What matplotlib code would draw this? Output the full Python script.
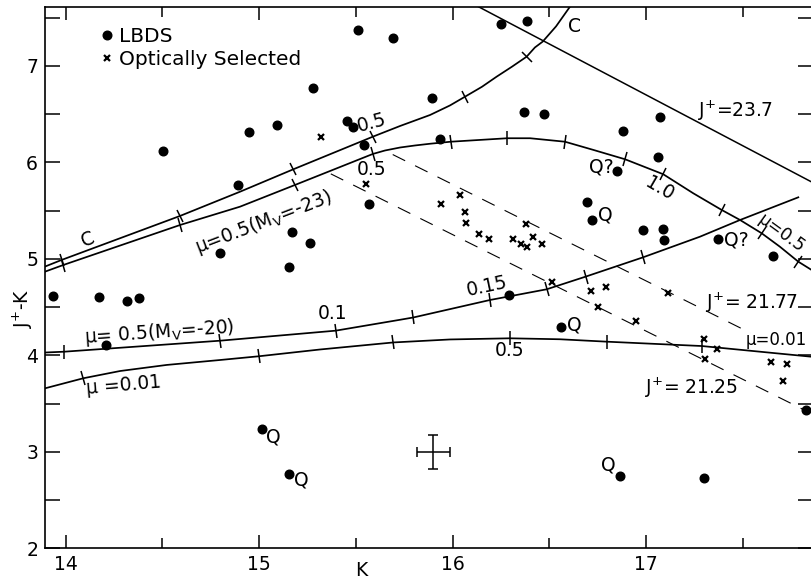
import numpy as np
import matplotlib
matplotlib.use('Agg')
import matplotlib.pyplot as plt
from matplotlib.markers import MarkerStyle
from matplotlib.transforms import Affine2D
from matplotlib.lines import Line2D

plt.rcParams['font.family'] = ['DejaVu Sans']
plt.rcParams['mathtext.fontset'] = 'dejavusans'
plt.rcParams['lines.scale_dashes'] = False

# ---------------- data ----------------
lbds_k = [15.509, 15.690, 15.280, 14.504, 14.949, 15.090, 15.452, 15.483, 15.542, 14.889,
          15.569, 15.171, 15.263, 14.797, 15.156, 13.936, 14.172, 14.315, 14.377, 14.208,
          15.016, 15.152, 16.250, 16.382, 15.891, 16.370, 16.473, 17.073, 16.879, 15.934,
          17.059, 16.848, 16.694, 16.720, 16.985, 17.088, 17.094, 17.370, 17.654, 16.291,
          16.558, 17.826, 16.865, 17.299]
lbds_jk = [7.371, 7.291, 6.767, 6.120, 6.314, 6.387, 6.431, 6.363, 6.176, 5.762,
           5.568, 5.275, 5.167, 5.057, 4.918, 4.615, 4.607, 4.560, 4.591, 4.107,
           3.236, 2.767, 7.430, 7.467, 6.666, 6.518, 6.501, 6.466, 6.321, 6.238,
           6.058, 5.907, 5.589, 5.402, 5.298, 5.306, 5.195, 5.202, 5.026, 4.628,
           4.296, 3.433, 2.749, 2.729]

opt_k = [15.319, 15.550, 16.038, 15.940, 16.064, 16.069, 16.134, 16.189, 16.380, 16.313,
         16.351, 16.382, 16.417, 16.463, 16.512, 16.713, 16.791, 17.111, 16.751, 16.947,
         17.297, 17.366, 17.305, 17.645, 17.729, 17.709]
opt_jk = [6.262, 5.772, 5.664, 5.565, 5.482, 5.374, 5.260, 5.202, 5.361, 5.208,
          5.153, 5.125, 5.223, 5.150, 4.763, 4.663, 4.705, 4.642, 4.504, 4.359,
          4.166, 4.065, 3.962, 3.927, 3.907, 3.737]

# model tracks
c_k = [13.85, 13.979, 14.591, 14.901, 15.176, 15.587, 15.728, 15.883, 15.986, 16.064, 16.151,
       16.227, 16.306, 16.382, 16.425, 16.465, 16.534, 16.606, 16.64]
c_jk = [4.885, 4.988, 5.444, 5.695, 5.927, 6.265, 6.376, 6.490, 6.589, 6.680, 6.782,
        6.887, 6.990, 7.094, 7.190, 7.250, 7.408, 7.612, 7.70]
c_ticks = [13.979, 14.591, 15.176, 15.587, 16.064, 16.382]

m23_k = [13.85, 13.988, 14.591, 14.901, 15.185, 15.587, 15.650, 15.728, 15.805, 15.883, 15.990,
         16.282, 16.400, 16.580, 16.727, 16.891, 17.088, 17.243, 17.390, 17.485, 17.597, 17.691,
         17.786, 17.87]
m23_jk = [4.835, 4.936, 5.350, 5.540, 5.765, 6.086, 6.122, 6.153, 6.174, 6.192, 6.213,
          6.249, 6.249, 6.213, 6.128, 6.031, 5.876, 5.679, 5.506, 5.402, 5.264, 5.125,
          4.970, 4.865]
m23_ticks = [13.988, 14.591, 15.185, 15.587, 15.990, 16.282, 16.580, 16.891, 17.088, 17.390,
             17.597, 17.786]

m20_k = [13.85, 13.991, 14.797, 15.395, 15.728, 15.797, 16.193, 16.486, 16.687, 16.985, 17.278,
         17.485, 17.786]
m20_jk = [4.025, 4.037, 4.151, 4.255, 4.368, 4.392, 4.573, 4.684, 4.815, 5.016, 5.229,
          5.402, 5.637]
m20_ticks = [13.991, 14.797, 15.395, 15.797, 16.193, 16.486, 16.687, 16.985]

mu01_k = [13.85, 14.091, 14.281, 14.522, 14.797, 14.999, 15.314, 15.693, 15.986, 16.296, 16.554,
          16.796, 17.287, 17.87]
mu01_jk = [3.635, 3.762, 3.837, 3.900, 3.951, 3.990, 4.060, 4.133, 4.164, 4.176, 4.166,
           4.141, 4.096, 3.982]
mu01_ticks = [14.091, 14.999, 15.693, 16.296, 16.796, 17.287]

j237_k = [16.133, 17.87]
j237_jk = [7.612, 5.78]
j2177_k = [15.69, 17.54]
j2177_jk = [6.08, 4.23]
j2125_k = [15.37, 17.82]
j2125_jk = [5.88, 3.43]

err_k, err_jk, err_dk, err_djk = [15.90], [3.00], [0.084], [0.174]

xticks_major = [14, 15, 16, 17]
xticks_minor = [14.5, 15.5, 16.5, 17.5]
yticks_major = [2, 3, 4, 5, 6, 7]
yticks_minor = [2.5, 3.5, 4.5, 5.5, 6.5, 7.5]

# ---------------- figure ----------------
W, H = 811, 583
fig = plt.figure(figsize=(W / 100, H / 100), dpi=100)
ax = fig.add_axes([45 / W, 1 - 548.3 / H, 768 / W, 541.6 / H])
ax.set_xlim(13.893, 17.862)
ax.set_ylim(2.0, 7.612)

for s in ax.spines.values():
    s.set_linewidth(1.2)

ax.set_xticks(xticks_major)
ax.set_xticks(xticks_minor, minor=True)
ax.set_yticks(yticks_major)
ax.set_yticks(yticks_minor, minor=True)
ax.tick_params(which='both', direction='in', top=True, right=True, width=1.1,
               labelsize=13.5, pad=5)
ax.tick_params(which='major', length=9.5)
ax.tick_params(which='minor', length=7.5)
ax.tick_params(axis='y', which='both', length=10.5)

lw = 1.25
for ck, cj in [(c_k, c_jk), (m23_k, m23_jk), (m20_k, m20_jk), (mu01_k, mu01_jk)]:
    ax.plot(ck, cj, color='k', lw=lw, solid_joinstyle='round')

ax.plot(j237_k, j237_jk, color='k', lw=1.1)
ax.plot(j2177_k, j2177_jk, color='k', lw=0.8, dashes=(10, 8))
ax.plot(j2125_k, j2125_jk, color='k', lw=0.8, dashes=(10, 8))


def curve_ticks(ck, cj, tks):
    for k in tks:
        j = np.interp(k, ck, cj)
        p0 = ax.transData.transform((k - 0.03, np.interp(k - 0.03, ck, cj)))
        p1 = ax.transData.transform((k + 0.03, np.interp(k + 0.03, ck, cj)))
        ang = np.degrees(np.arctan2(p1[1] - p0[1], p1[0] - p0[0]))
        m = MarkerStyle('|', transform=Affine2D().rotate_deg(ang))
        ax.plot([k], [j], marker=m, ms=10, mew=1.1, color='k', ls='none')


curve_ticks(c_k, c_jk, c_ticks)
curve_ticks(m23_k, m23_jk, m23_ticks)
curve_ticks(m20_k, m20_jk, m20_ticks)
curve_ticks(mu01_k, mu01_jk, mu01_ticks)

ax.plot(lbds_k, lbds_jk, 'o', color='k', ms=6.2, ls='none')
ax.plot(opt_k, opt_jk, 'x', color='k', ms=5, mew=1.6, ls='none')

ax.errorbar(err_k, err_jk, xerr=err_dk, yerr=err_djk, fmt='none', ecolor='k',
            elinewidth=1.1, capsize=3.5, capthick=1.1)

fs = 13.5
def txt(x, y, s, rot=0, ha='center', va='center', size=fs):
    ax.text(x, y, s, rotation=rot, ha=ha, va=va, fontsize=size,
            rotation_mode='anchor', clip_on=False)

txt(14.117, 5.195, 'C', rot=22)
txt(16.627, 7.405, 'C')
txt(15.580, 6.404, '0.5', rot=15)
txt(15.580, 5.920, '0.5')
txt(15.020, 5.376, r'μ=0.5(M$_{\mathrm{V}}$=-23)', rot=21)
txt(16.770, 5.954, 'Q?')
txt(17.071, 5.731, '1.0', rot=-30)
txt(16.787, 5.454, 'Q')
txt(17.468, 5.195, 'Q?')
txt(17.700, 5.265, 'μ=0.5', rot=-36, size=12.5)
txt(17.458, 6.532, r'J$^{+}$=23.7')
txt(16.179, 4.711, '0.15', rot=12)
txt(15.380, 4.435, '0.1')
txt(14.483, 4.243, r'μ= 0.5(M$_{\mathrm{V}}$=-20)', rot=4)
txt(14.302, 3.693, 'μ =0.01', rot=5)
txt(16.296, 4.048, '0.5')
txt(17.545, 4.539, r'J$^{+}$= 21.77')
txt(17.515, 4.159, 'μ=0.01', ha='left', size=12)
txt(17.235, 3.666, r'J$^{+}$= 21.25')
txt(15.073, 3.156, 'Q')
txt(15.220, 2.708, 'Q')
txt(16.627, 4.314, 'Q')
txt(16.804, 2.863, 'Q')

h1 = Line2D([], [], marker='o', ls='none', color='k', ms=6.2)
h2 = Line2D([], [], marker='x', ls='none', color='k', ms=5, mew=1.6)
ax.legend([h1, h2], ['LBDS', 'Optically Selected'], loc='upper left',
          bbox_to_anchor=(0.0736, 0.963), frameon=False, handlelength=0.5,
          handletextpad=0.35, labelspacing=0.2, fontsize=14.5, borderaxespad=0,
          borderpad=0)

fig.text(23 / W, 1 - 308.5 / H, r'J$^{+}$-K', rotation=90, ha='center', va='center', fontsize=fs)
fig.text(361.7 / W, 1 - 570 / H, 'K', ha='center', va='center', fontsize=fs)

fig.savefig('out.png', dpi=100)
